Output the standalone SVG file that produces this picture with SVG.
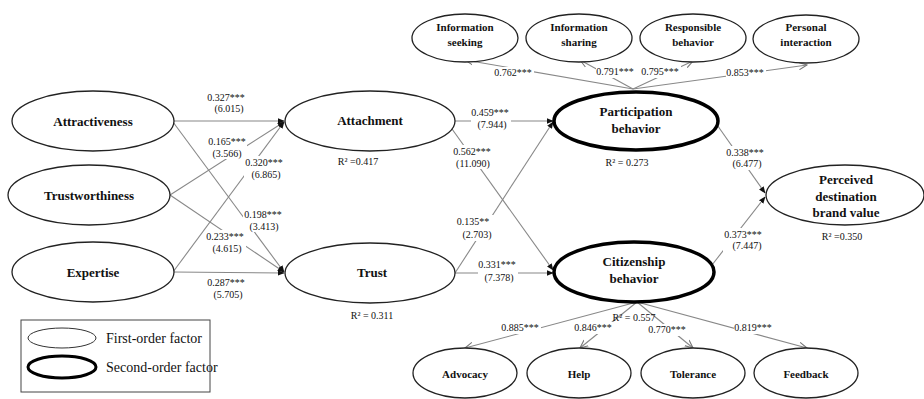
<svg xmlns="http://www.w3.org/2000/svg" width="924" height="399" viewBox="0 0 924 399">
<defs>
<marker id="solid" viewBox="0 0 10 10" refX="9" refY="5" markerWidth="7" markerHeight="7" orient="auto" markerUnits="userSpaceOnUse">
<path d="M0,1 L10,5 L0,9 Z" fill="#111"/>
</marker>
<marker id="open" viewBox="0 0 10 10" refX="9" refY="5" markerWidth="9" markerHeight="9" orient="auto" markerUnits="userSpaceOnUse">
<path d="M0,1 L9,5 L0,9" fill="none" stroke="#777" stroke-width="1.2"/>
</marker>
<style>
.n1{fill:#fff;stroke:#222;stroke-width:1.3}
.n2{fill:#fff;stroke:#000;stroke-width:3.5}
.t{font-family:"Liberation Serif","Times New Roman",serif;font-weight:bold;font-size:13px;fill:#111;text-anchor:middle}
.ts{font-family:"Liberation Serif","Times New Roman",serif;font-weight:bold;font-size:11px;fill:#111;text-anchor:middle}
.c{font-family:"Liberation Serif","Times New Roman",serif;font-size:10px;fill:#111;text-anchor:middle}
.lg{font-family:"Liberation Serif","Times New Roman",serif;font-size:14px;fill:#111}
.e{fill:none;stroke:#888;stroke-width:1.1}
.bg{fill:#fff}
</style>
</defs>
<rect width="924" height="399" fill="#fff"/>

<g id="connectors">
<line class="e" x1="173" y1="121" x2="284" y2="121" marker-end="url(#solid)"/>
<line class="e" x1="173" y1="122" x2="284" y2="272" marker-end="url(#solid)"/>
<line class="e" x1="170" y1="195" x2="284" y2="122" marker-end="url(#solid)"/>
<line class="e" x1="170" y1="195" x2="284" y2="272" marker-end="url(#solid)"/>
<line class="e" x1="173" y1="272" x2="284" y2="122" marker-end="url(#solid)"/>
<line class="e" x1="173" y1="272" x2="284" y2="273" marker-end="url(#solid)"/>
<line class="e" x1="455" y1="121" x2="553" y2="121" marker-end="url(#solid)"/>
<line class="e" x1="447" y1="122" x2="553" y2="270" marker-end="url(#solid)"/>
<line class="e" x1="455" y1="273" x2="553" y2="122" marker-end="url(#solid)"/>
<line class="e" x1="455" y1="273" x2="553" y2="273" marker-end="url(#solid)"/>
<line class="e" x1="715" y1="122" x2="765" y2="193" marker-end="url(#solid)"/>
<line class="e" x1="712" y1="265" x2="765" y2="197" marker-end="url(#solid)"/>
<line class="e" x1="633" y1="89" x2="465" y2="60" marker-end="url(#open)"/>
<line class="e" x1="633" y1="89" x2="580" y2="60" marker-end="url(#open)"/>
<line class="e" x1="633" y1="89" x2="693" y2="61" marker-end="url(#open)"/>
<line class="e" x1="633" y1="89" x2="807" y2="65" marker-end="url(#open)"/>
<line class="e" x1="637" y1="302" x2="465" y2="348" marker-end="url(#open)"/>
<line class="e" x1="637" y1="302" x2="580" y2="348" marker-end="url(#open)"/>
<line class="e" x1="637" y1="302" x2="693" y2="348" marker-end="url(#open)"/>
<line class="e" x1="637" y1="302" x2="807" y2="348" marker-end="url(#open)"/>

<g id="labels">
<rect class="bg" x="207" y="91" width="40" height="24"/>
<text class="c" x="226" y="101">0.327***</text><text class="c" x="229" y="112">(6.015)</text>
<rect class="bg" x="207" y="135" width="40" height="24"/>
<text class="c" x="227" y="145">0.165***</text><text class="c" x="227" y="157">(3.566)</text>
<rect class="bg" x="244" y="156" width="40" height="24"/>
<text class="c" x="264" y="166">0.320***</text><text class="c" x="266" y="178">(6.865)</text>
<rect class="bg" x="243" y="208" width="40" height="24"/>
<text class="c" x="263" y="218">0.198***</text><text class="c" x="264" y="230">(3.413)</text>
<rect class="bg" x="206" y="230" width="40" height="24"/>
<text class="c" x="225" y="240">0.233***</text><text class="c" x="227" y="252">(4.615)</text>
<rect class="bg" x="206" y="276" width="40" height="24"/>
<text class="c" x="226" y="286">0.287***</text><text class="c" x="228" y="298">(5.705)</text>
<rect class="bg" x="471" y="106" width="40" height="24"/>
<text class="c" x="490" y="116">0.459***</text><text class="c" x="492" y="128">(7.944)</text>
<rect class="bg" x="452" y="145" width="42" height="24"/>
<text class="c" x="472" y="155">0.562***</text><text class="c" x="473" y="167">(11.090)</text>
<rect class="bg" x="455" y="215" width="40" height="26"/>
<text class="c" x="473" y="225">0.135**</text><text class="c" x="477" y="238">(2.703)</text>
<rect class="bg" x="478" y="258" width="40" height="24"/>
<text class="c" x="497" y="268">0.331***</text><text class="c" x="499" y="281">(7.378)</text>
<rect class="bg" x="726" y="146" width="40" height="24"/>
<text class="c" x="745" y="156">0.338***</text><text class="c" x="747" y="167">(6.477)</text>
<rect class="bg" x="723" y="228" width="40" height="24"/>
<text class="c" x="743" y="238">0.373***</text><text class="c" x="747" y="249">(7.447)</text>
<rect class="bg" x="494" y="67" width="40" height="12"/>
<text class="c" x="513" y="76">0.762***</text>
<rect class="bg" x="596" y="66" width="40" height="12"/>
<text class="c" x="615" y="75">0.791***</text>
<rect class="bg" x="641" y="66" width="40" height="12"/>
<text class="c" x="660" y="75">0.795***</text>
<rect class="bg" x="726" y="67" width="40" height="12"/>
<text class="c" x="745" y="76">0.853***</text>
<rect class="bg" x="501" y="322" width="40" height="12"/>
<text class="c" x="520" y="331">0.885***</text>
<rect class="bg" x="574" y="322" width="40" height="12"/>
<text class="c" x="593" y="331">0.846***</text>
<rect class="bg" x="648" y="324" width="40" height="12"/>
<text class="c" x="667" y="333">0.770***</text>
<rect class="bg" x="734" y="322" width="40" height="12"/>
<text class="c" x="753" y="331">0.819***</text>
</g>
</g>

<g id="attractiveness"><ellipse class="n1" cx="93" cy="121" rx="81" ry="30"/><text class="t" x="93" y="126">Attractiveness</text></g>
<g id="trustworthiness"><ellipse class="n1" cx="89" cy="195" rx="81" ry="30"/><text class="t" x="89" y="200">Trustworthiness</text></g>
<g id="expertise"><ellipse class="n1" cx="93" cy="272" rx="81" ry="30"/><text class="t" x="93" y="277">Expertise</text></g>

<g id="attachment"><ellipse class="n1" cx="370" cy="121" rx="85" ry="30"/><text class="t" x="370" y="125">Attachment</text>
<text class="c" x="358" y="165">R² =0.417</text></g>
<g id="trust"><ellipse class="n1" cx="370" cy="273" rx="85" ry="30"/><text class="t" x="372" y="277">Trust</text>
<text class="c" x="372" y="319">R² = 0.311</text></g>

<g id="participation"><ellipse class="n2" cx="636" cy="121" rx="82" ry="29"/><text class="t" x="636" y="116">Participation</text><text class="t" x="636" y="133">behavior</text>
<text class="c" x="627" y="166">R² = 0.273</text></g>
<g id="citizenship"><ellipse class="n2" cx="634" cy="272" rx="80" ry="30"/><text class="t" x="634" y="266">Citizenship</text><text class="t" x="634" y="283">behavior</text>
<text class="c" x="634" y="321">R² = 0.557</text></g>
<g id="perceived"><ellipse class="n1" cx="845" cy="195" rx="79" ry="30"/><text class="t" x="846" y="184">Perceived</text><text class="t" x="846" y="201">destination</text><text class="t" x="846" y="217">brand value</text>
<text class="c" x="842" y="240">R² =0.350</text></g>

<g id="info-seeking"><ellipse class="n1" cx="465" cy="38" rx="53" ry="24"/><text class="ts" x="465" y="31">Information</text><text class="ts" x="465" y="46">seeking</text></g>
<g id="info-sharing"><ellipse class="n1" cx="579" cy="38" rx="53" ry="24"/><text class="ts" x="579" y="31">Information</text><text class="ts" x="579" y="46">sharing</text></g>
<g id="responsible"><ellipse class="n1" cx="693" cy="38" rx="53" ry="24"/><text class="ts" x="693" y="31">Responsible</text><text class="ts" x="693" y="46">behavior</text></g>
<g id="personal"><ellipse class="n1" cx="806" cy="39" rx="53" ry="24"/><text class="ts" x="806" y="31">Personal</text><text class="ts" x="806" y="46">interaction</text></g>

<g id="advocacy"><ellipse class="n1" cx="465" cy="373" rx="52" ry="25"/><text class="ts" x="465" y="378">Advocacy</text></g>
<g id="help"><ellipse class="n1" cx="579" cy="373" rx="52" ry="25"/><text class="ts" x="579" y="378">Help</text></g>
<g id="tolerance"><ellipse class="n1" cx="693" cy="373" rx="52" ry="25"/><text class="ts" x="693" y="378">Tolerance</text></g>
<g id="feedback"><ellipse class="n1" cx="806" cy="373" rx="52" ry="25"/><text class="ts" x="806" y="378">Feedback</text></g>

<g id="legend">
<rect x="21" y="320" width="189" height="72" fill="#fff" stroke="#444" stroke-width="1"/>
<ellipse cx="62" cy="338" rx="34" ry="10" fill="#fff" stroke="#333" stroke-width="1"/>
<text class="lg" x="106" y="343">First-order factor</text>
<ellipse cx="62" cy="367" rx="34" ry="11" fill="#fff" stroke="#000" stroke-width="3"/>
<text class="lg" x="106" y="372">Second-order factor</text>
</g>
</svg>
